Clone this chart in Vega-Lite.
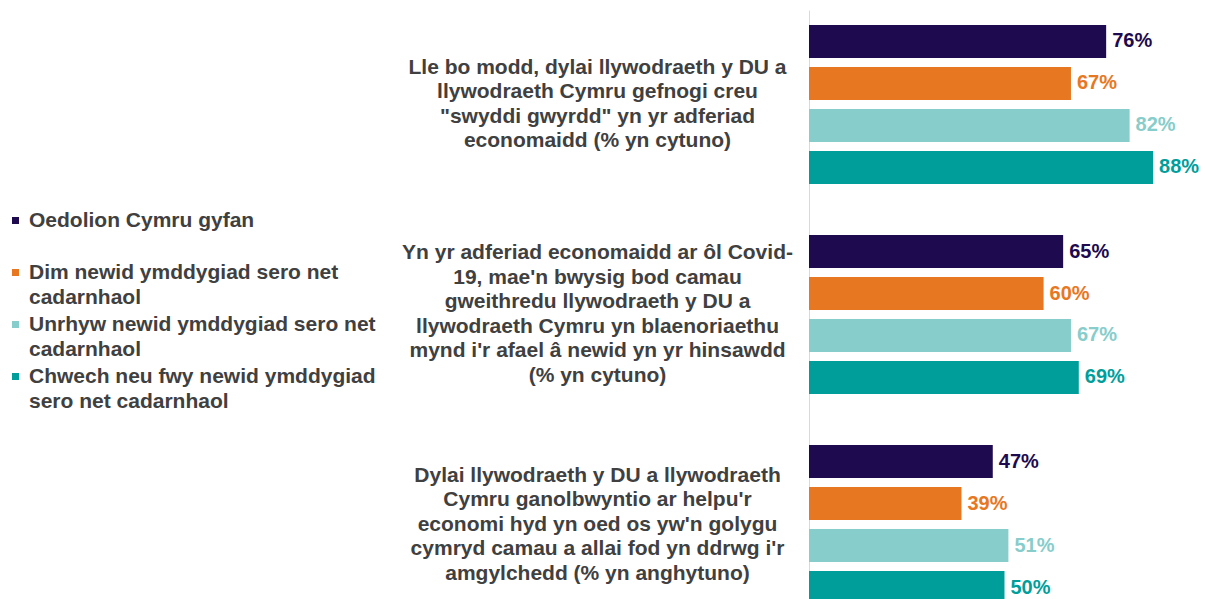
{
  "$schema": "https://vega.github.io/schema/vega-lite/v6.json",
  "autosize": {"type": "none"},
  "padding": {"left": 809, "top": 10, "right": 6, "bottom": 0},
  "width": 391,
  "height": 589,
  "background": "white",
  "config": {
    "view": {"stroke": null},
    "font": "Liberation Sans"
  },
  "data": {
    "values": [
      {"question": "Lle bo modd, dylai llywodraeth y DU a|llywodraeth Cymru gefnogi creu|\"swyddi gwyrdd\" yn yr adferiad|economaidd (% yn cytuno)", "group": "Oedolion Cymru gyfan", "value": 0.76},
      {"question": "Lle bo modd, dylai llywodraeth y DU a|llywodraeth Cymru gefnogi creu|\"swyddi gwyrdd\" yn yr adferiad|economaidd (% yn cytuno)", "group": "Dim newid ymddygiad sero net|cadarnhaol", "value": 0.67},
      {"question": "Lle bo modd, dylai llywodraeth y DU a|llywodraeth Cymru gefnogi creu|\"swyddi gwyrdd\" yn yr adferiad|economaidd (% yn cytuno)", "group": "Unrhyw newid ymddygiad sero net|cadarnhaol", "value": 0.82},
      {"question": "Lle bo modd, dylai llywodraeth y DU a|llywodraeth Cymru gefnogi creu|\"swyddi gwyrdd\" yn yr adferiad|economaidd (% yn cytuno)", "group": "Chwech neu fwy newid ymddygiad|sero net cadarnhaol", "value": 0.88},
      {"question": "Yn yr adferiad economaidd ar ôl Covid-|19, mae'n bwysig bod camau|gweithredu llywodraeth y DU a|llywodraeth Cymru yn blaenoriaethu|mynd i'r afael â newid yn yr hinsawdd|(% yn cytuno)", "group": "Oedolion Cymru gyfan", "value": 0.65},
      {"question": "Yn yr adferiad economaidd ar ôl Covid-|19, mae'n bwysig bod camau|gweithredu llywodraeth y DU a|llywodraeth Cymru yn blaenoriaethu|mynd i'r afael â newid yn yr hinsawdd|(% yn cytuno)", "group": "Dim newid ymddygiad sero net|cadarnhaol", "value": 0.60},
      {"question": "Yn yr adferiad economaidd ar ôl Covid-|19, mae'n bwysig bod camau|gweithredu llywodraeth y DU a|llywodraeth Cymru yn blaenoriaethu|mynd i'r afael â newid yn yr hinsawdd|(% yn cytuno)", "group": "Unrhyw newid ymddygiad sero net|cadarnhaol", "value": 0.67},
      {"question": "Yn yr adferiad economaidd ar ôl Covid-|19, mae'n bwysig bod camau|gweithredu llywodraeth y DU a|llywodraeth Cymru yn blaenoriaethu|mynd i'r afael â newid yn yr hinsawdd|(% yn cytuno)", "group": "Chwech neu fwy newid ymddygiad|sero net cadarnhaol", "value": 0.69},
      {"question": "Dylai llywodraeth y DU a llywodraeth|Cymru ganolbwyntio ar helpu'r|economi hyd yn oed os yw'n golygu|cymryd camau a allai fod yn ddrwg i'r|amgylchedd (% yn anghytuno)", "group": "Oedolion Cymru gyfan", "value": 0.47},
      {"question": "Dylai llywodraeth y DU a llywodraeth|Cymru ganolbwyntio ar helpu'r|economi hyd yn oed os yw'n golygu|cymryd camau a allai fod yn ddrwg i'r|amgylchedd (% yn anghytuno)", "group": "Dim newid ymddygiad sero net|cadarnhaol", "value": 0.39},
      {"question": "Dylai llywodraeth y DU a llywodraeth|Cymru ganolbwyntio ar helpu'r|economi hyd yn oed os yw'n golygu|cymryd camau a allai fod yn ddrwg i'r|amgylchedd (% yn anghytuno)", "group": "Unrhyw newid ymddygiad sero net|cadarnhaol", "value": 0.51},
      {"question": "Dylai llywodraeth y DU a llywodraeth|Cymru ganolbwyntio ar helpu'r|economi hyd yn oed os yw'n golygu|cymryd camau a allai fod yn ddrwg i'r|amgylchedd (% yn anghytuno)", "group": "Chwech neu fwy newid ymddygiad|sero net cadarnhaol", "value": 0.50}
    ]
  },
  "encoding": {
    "y": {
      "field": "question",
      "type": "nominal",
      "sort": null,
      "scale": {"range": [0, 609], "paddingInner": 0.243, "paddingOuter": 0.0714},
      "axis": {
        "title": null,
        "ticks": false,
        "domain": true,
        "domainColor": "#d9d9d9",
        "domainWidth": 1,
        "labelExpr": "split(datum.label, '|')",
        "labelAlign": "center",
        "labelBaseline": "middle",
        "labelPadding": 212,
        "labelLimit": 0,
        "labelFont": "Liberation Sans",
        "labelFontWeight": "bold",
        "labelFontSize": 21,
        "labelLineHeight": 24.5,
        "labelColor": "#404040",
        "labelOffset": {
          "condition": [
            {"test": "length(split(datum.value, '|')) == 4", "value": -36.75},
            {"test": "length(split(datum.value, '|')) == 6", "value": -61.25}
          ],
          "value": -49
        }
      }
    },
    "yOffset": {
      "field": "group",
      "type": "nominal",
      "sort": ["Oedolion Cymru gyfan", "Dim newid ymddygiad sero net|cadarnhaol", "Unrhyw newid ymddygiad sero net|cadarnhaol", "Chwech neu fwy newid ymddygiad|sero net cadarnhaol"],
      "scale": {"paddingInner": 0.214, "paddingOuter": 0}
    },
    "x": {
      "field": "value",
      "type": "quantitative",
      "scale": {"domain": [0, 1]},
      "axis": null
    },
    "color": {
      "field": "group",
      "type": "nominal",
      "scale": {
        "domain": ["Oedolion Cymru gyfan", "Dim newid ymddygiad sero net|cadarnhaol", "Unrhyw newid ymddygiad sero net|cadarnhaol", "Chwech neu fwy newid ymddygiad|sero net cadarnhaol"],
        "range": ["#1D0A4F", "#E87722", "#87CDCB", "#009E9B"]
      },
      "legend": {
        "title": null,
        "orient": "none",
        "legendX": -804,
        "legendY": 200,
        "direction": "vertical",
        "symbolType": "square",
        "symbolSize": 49,
        "symbolStrokeWidth": 0,
        "symbolOpacity": 1,
        "labelExpr": "split(indexof(datum.label, '|') < 0 ? datum.label + '| ' : datum.label, '|')",
        "labelFont": "Liberation Sans",
        "labelFontWeight": "bold",
        "labelFontSize": 21,
        "labelColor": "#404040",
        "labelLimit": 0,
        "labelOffset": 3,
        "rowPadding": 5,
        "padding": 0,
        "encode": {"labels": {"update": {"lineHeight": {"value": 25}}}}
      }
    }
  },
  "layer": [
    {"mark": {"type": "bar", "clip": true}},
    {
      "mark": {"type": "text", "align": "left", "baseline": "middle", "dx": 6, "fontSize": 20, "fontWeight": "bold", "font": "Liberation Sans"},
      "encoding": {"text": {"field": "value", "type": "quantitative", "format": ".0%"}}
    }
  ]
}
